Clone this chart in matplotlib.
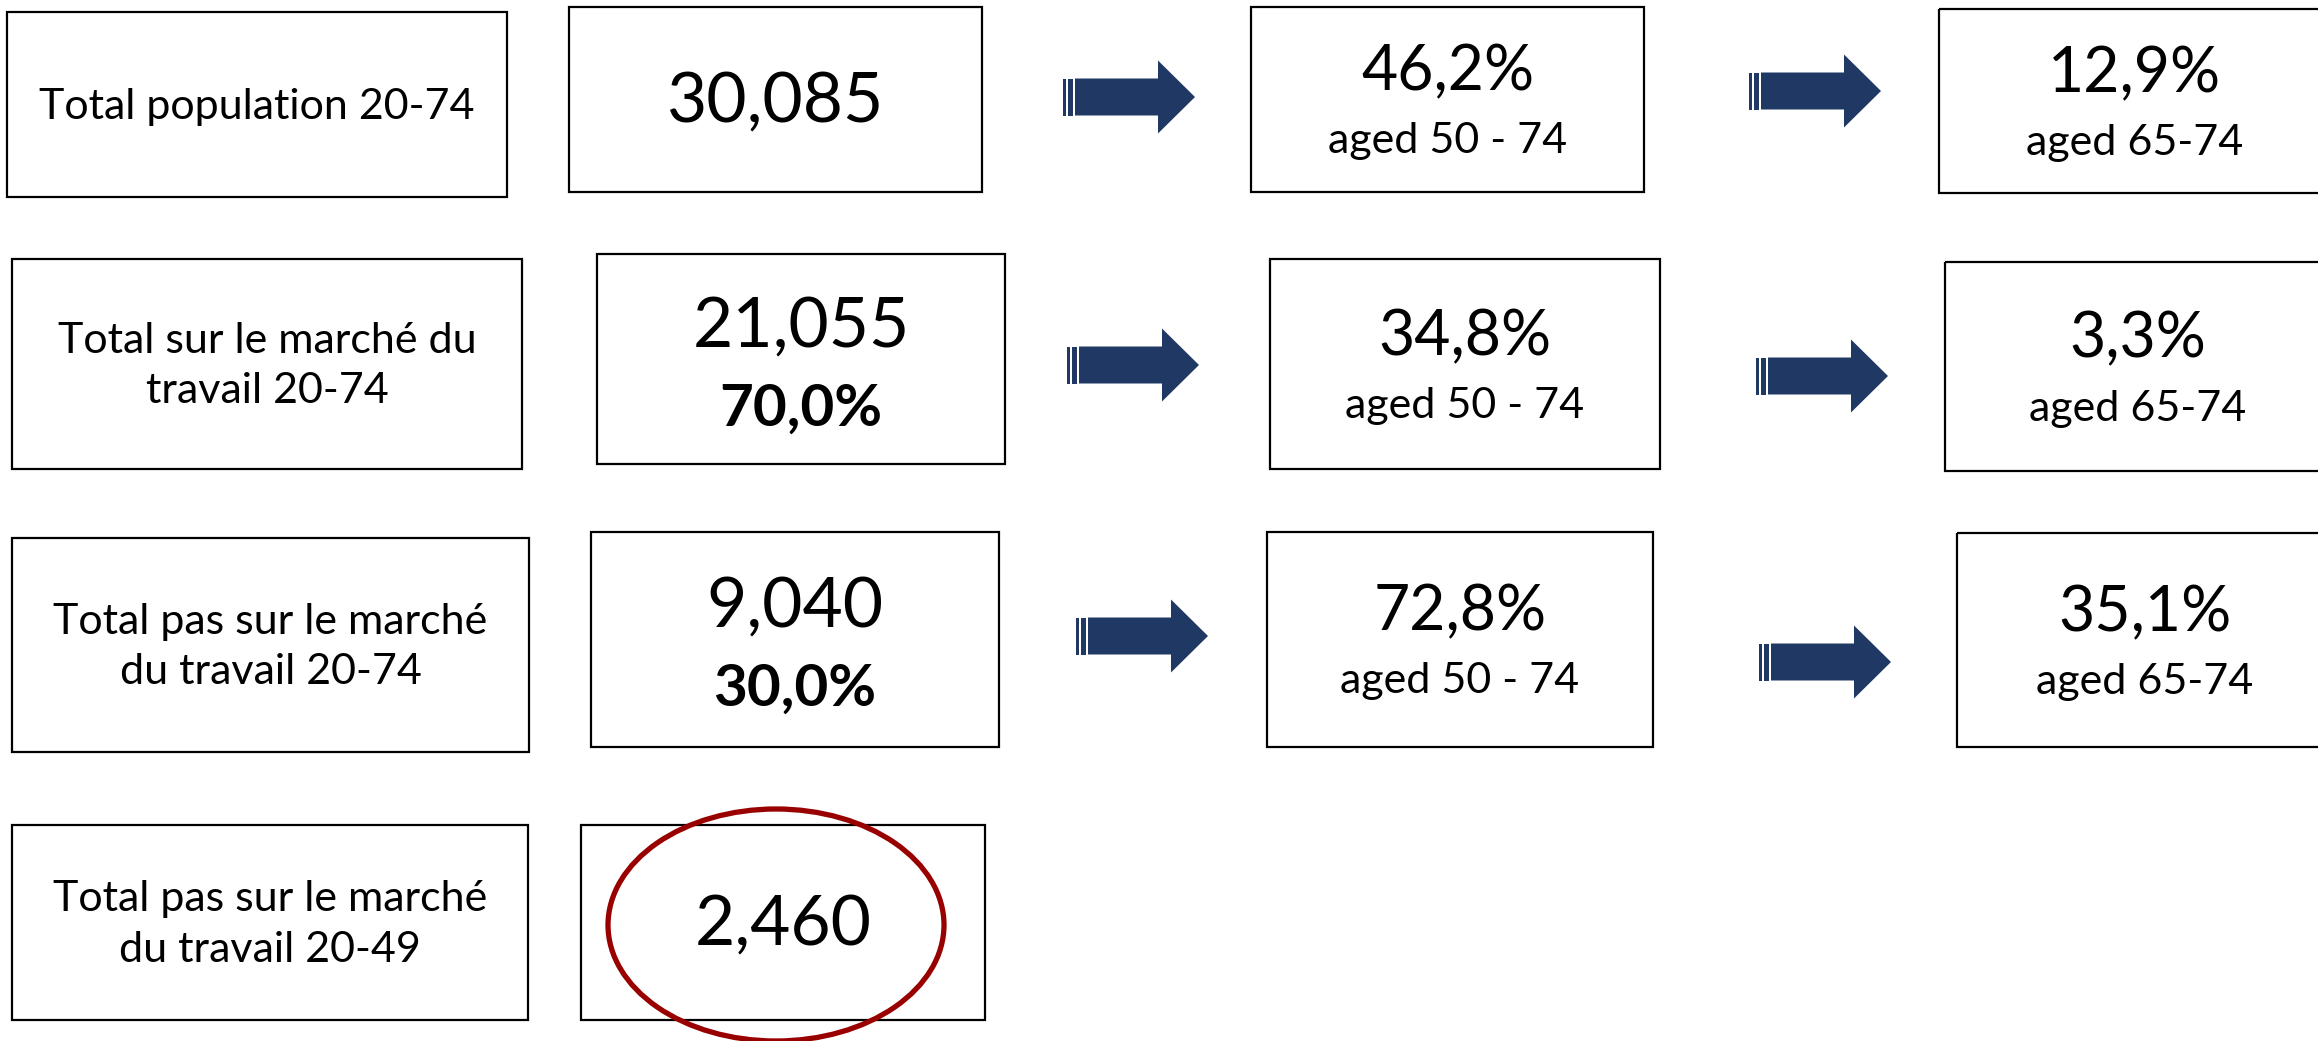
import matplotlib
matplotlib.use("Agg")
import matplotlib.pyplot as plt
from matplotlib.patches import Rectangle, Polygon, Ellipse

plt.rcParams['font.family'] = ['Lato', 'DejaVu Sans']

# Données
libelles = ["Total population 20-74",
            "Total sur le marché du\ntravail 20-74",
            "Total pas sur le marché\ndu travail 20-74",
            "Total pas sur le marché\ndu travail 20-49"]
totaux = ["30,085", "21,055", "9,040", "2,460"]
parts = ["", "70,0%", "30,0%", ""]
pct_50_74 = ["46,2%", "34,8%", "72,8%"]
pct_65_74 = ["12,9%", "3,3%", "35,1%"]
lib_50_74 = "aged 50 - 74"
lib_65_74 = "aged 65-74"

# Mise en page (pixels, origine en haut à gauche)
W, H = 2318, 1041
boites_a = [(7, 12, 507, 197), (12, 259, 522, 469), (12, 538, 529, 752), (12, 825, 528, 1020)]
boites_b = [(569, 7, 982, 192), (597, 254, 1005, 464), (591, 532, 999, 747), (581, 825, 985, 1020)]
boites_c = [(1251, 7, 1644, 192), (1270, 259, 1660, 469), (1267, 532, 1653, 747)]
boites_d = [(1939, 9, 2330, 193), (1945, 262, 2331, 471), (1957, 533, 2333, 747)]
fleches = [(1063, 97), (1749, 91), (1067, 365), (1756, 376), (1076, 636), (1759, 662)]

fig = plt.figure(figsize=(W / 100, H / 100), dpi=100)
ax = fig.add_axes([0, 0, 1, 1])
ax.set_xlim(0, W)
ax.set_ylim(H, 0)
ax.axis('off')


def boite(b):
    x0, y0, x1, y1 = b
    ax.add_patch(Rectangle((x0, y0), x1 - x0, y1 - y0, fill=False,
                           edgecolor='black', lw=1.6))


def fleche(x0, cy):
    bleu = '#203864'
    bh, hh = 18.5, 36.5
    ax.add_patch(Rectangle((x0, cy - bh), 2.5, 2 * bh, color=bleu, lw=0))
    ax.add_patch(Rectangle((x0 + 4.5, cy - bh), 5.5, 2 * bh, color=bleu, lw=0))
    pts = [(x0 + 12, cy - bh), (x0 + 95, cy - bh), (x0 + 95, cy - hh),
           (x0 + 132, cy), (x0 + 95, cy + hh), (x0 + 95, cy + bh), (x0 + 12, cy + bh)]
    ax.add_patch(Polygon(pts, closed=True, color=bleu, lw=0))


for i in range(4):
    boite(boites_a[i])
    boite(boites_b[i])
    x0, y0, x1, y1 = boites_a[i]
    ax.text((x0 + x1) / 2, (y0 + y1) / 2 + 2, libelles[i], ha='center', va='center',
            fontsize=31, linespacing=1.4)
    x0, y0, x1, y1 = boites_b[i]
    cx, cy = (x0 + x1) / 2, (y0 + y1) / 2
    if parts[i]:
        ax.text(cx, cy - 32, totaux[i], ha='center', va='center', fontsize=50)
        ax.text(cx, cy + 50, parts[i], ha='center', va='center', fontsize=42,
                fontweight='bold')
    else:
        ax.text(cx, cy + 3, totaux[i], ha='center', va='center', fontsize=50)

for i in range(3):
    boite(boites_c[i])
    boite(boites_d[i])
    x0, y0, x1, y1 = boites_c[i]
    cx, cy = (x0 + x1) / 2, (y0 + y1) / 2
    ax.text(cx, cy - 27, pct_50_74[i], ha='center', va='center', fontsize=45)
    ax.text(cx, cy + 42, lib_50_74, ha='center', va='center', fontsize=31)
    x0, y0, x1, y1 = boites_d[i]
    cx, cy = (x0 + x1) / 2, (y0 + y1) / 2
    ax.text(cx, cy - 27, pct_65_74[i], ha='center', va='center', fontsize=45)
    ax.text(cx, cy + 42, lib_65_74, ha='center', va='center', fontsize=31)

for x0, cy in fleches:
    fleche(x0, cy)

# Cercle rouge autour du 2,460
ax.add_patch(Ellipse((776, 925), 336, 232, fill=False, edgecolor='#990000', lw=3.8))

fig.savefig('out.png', dpi=100, facecolor='white')
